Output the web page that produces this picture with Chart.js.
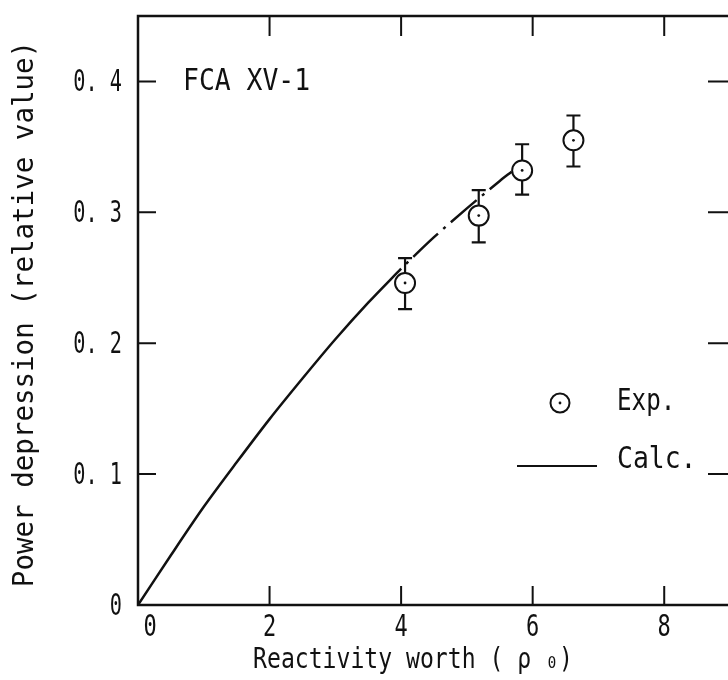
<!DOCTYPE html>
<html><head><meta charset="utf-8">
<script src="https://cdn.jsdelivr.net/npm/chart.js@4.4.1/dist/chart.umd.min.js"></script>
<style>
html,body{margin:0;padding:0;overflow:hidden;background:#fff;width:728px;height:680px}
#wrap{width:742px;height:680px;position:relative}
</style></head>
<body><div id="wrap"><canvas id="c"></canvas></div>
<script>
// ---- data ----
const xTicks = [0, 2, 4, 6, 8];
const xTickLabels = ['0', '2', '4', '6', '8'];
const yTicks = [0, 0.1, 0.2, 0.3, 0.4];
const yTickLabels = ['0', '0. 1', '0. 2', '0. 3', '0. 4'];
const calcX = [0, 0.5, 1, 1.5, 2, 2.5, 3, 3.5, 4];
const calcY = [0, 0.038, 0.075, 0.109, 0.142, 0.173, 0.203, 0.231, 0.257];
const extX = [4, 4.5, 5, 5.5, 5.68];
const extY = [0.257, 0.281, 0.303, 0.324, 0.331];
const expX = [4.06, 5.18, 5.84, 6.62];
const expY = [0.246, 0.2975, 0.332, 0.355];
const expLow = [0.226, 0.277, 0.3135, 0.335];
const expHigh = [0.265, 0.317, 0.352, 0.374];
const xTitle = 'Reactivity worth ( \u03C1 \u2080)';
const yTitle = 'Power depression (relative value)';
const panelLabel = 'FCA XV-1';
const legendExp = 'Exp.';
const legendCalc = 'Calc.';

const pts = (xs, ys) => xs.map((x, i) => ({x, y: ys[i]}));
const FONT = '"DejaVu Sans Mono", "Liberation Mono", monospace';
const INK = '#111';

function txt(ctx, s, x, y, o = {}) {
  const {align = 'center', sx = 1, sy = 1.3, rot = 0, size = 22} = o;
  ctx.save();
  ctx.translate(x, y);
  if (rot) ctx.rotate(rot);
  ctx.scale(sx, sy);
  ctx.font = size + 'px ' + FONT;
  ctx.textAlign = align;
  ctx.textBaseline = 'middle';
  ctx.fillStyle = INK;
  ctx.fillText(s, 0, 0);
  ctx.restore();
}

const decor = {
  id: 'decor',
  beforeDatasetsDraw(chart) {
    const ctx = chart.ctx, xs = chart.scales.x, ys = chart.scales.y;
    ctx.save();
    ctx.strokeStyle = INK;
    ctx.lineWidth = 2.2;
    expX.forEach((x, i) => {
      const px = xs.getPixelForValue(x);
      const lo = ys.getPixelForValue(expLow[i]);
      const hi = ys.getPixelForValue(expHigh[i]);
      ctx.beginPath();
      ctx.moveTo(px, lo); ctx.lineTo(px, hi);
      ctx.moveTo(px - 7, lo); ctx.lineTo(px + 7, lo);
      ctx.moveTo(px - 7, hi); ctx.lineTo(px + 7, hi);
      ctx.stroke();
    });
    ctx.restore();
  },
  afterDatasetsDraw(chart) {
    const ctx = chart.ctx, xs = chart.scales.x, ys = chart.scales.y;
    const a = chart.chartArea;
    ctx.save();
    ctx.fillStyle = INK;
    expX.forEach((x, i) => {
      ctx.beginPath();
      ctx.arc(xs.getPixelForValue(x), ys.getPixelForValue(expY[i]), 1.4, 0, Math.PI * 2);
      ctx.fill();
    });
    // frame
    ctx.strokeStyle = INK;
    ctx.lineWidth = 2.5;
    ctx.strokeRect(a.left, a.top, a.right - a.left, a.bottom - a.top);
    ctx.lineWidth = 2;
    ctx.beginPath();
    xTicks.forEach(v => {
      if (v === 0) return;
      const px = xs.getPixelForValue(v);
      ctx.moveTo(px, a.bottom); ctx.lineTo(px, a.bottom - 19);
      ctx.moveTo(px, a.top); ctx.lineTo(px, a.top + 20);
    });
    yTicks.forEach(v => {
      if (v === 0) return;
      const py = ys.getPixelForValue(v);
      ctx.moveTo(a.left, py); ctx.lineTo(a.left + 18, py);
      ctx.moveTo(a.right, py); ctx.lineTo(a.right - 22, py);
    });
    ctx.stroke();
    // tick labels
    xTicks.forEach((v, i) => {
      const px = xs.getPixelForValue(v) + (v === 0 ? 12 : 0);
      txt(ctx, xTickLabels[i], px, a.bottom + 23, {sx: 1, sy: 1.35});
    });
    yTicks.forEach((v, i) => {
      const py = ys.getPixelForValue(v);
      txt(ctx, yTickLabels[i], a.left - 16, py + 2, {align: 'right', sx: 0.92, sy: 1.4});
    });
    // axis titles
    txt(ctx, xTitle, 413, 661, {sx: 1.05, sy: 1.3});
    txt(ctx, yTitle, 26, 314, {rot: -Math.PI / 2, sx: 1.25, sy: 1.3});
    // panel label
    txt(ctx, panelLabel, 183, 82, {align: 'left', sx: 1.2, sy: 1.35});
    // legend
    ctx.beginPath();
    ctx.lineWidth = 2;
    ctx.arc(560, 403, 9.5, 0, Math.PI * 2);
    ctx.stroke();
    ctx.beginPath();
    ctx.arc(560, 403, 1.4, 0, Math.PI * 2);
    ctx.fill();
    txt(ctx, legendExp, 617, 402, {align: 'left', sx: 1.1, sy: 1.35});
    ctx.beginPath();
    ctx.lineWidth = 2.2;
    ctx.moveTo(517, 466); ctx.lineTo(597, 466);
    ctx.stroke();
    txt(ctx, legendCalc, 617, 460, {align: 'left', sx: 1.2, sy: 1.35});
    ctx.restore();
  }
};

new Chart(document.getElementById('c'), {
  type: 'scatter',
  data: {
    datasets: [
      {label: 'Calc.', data: pts(calcX, calcY), showLine: true, borderColor: INK, borderWidth: 2.5,
       pointRadius: 0, tension: 0.3, fill: false},
      {label: 'Calc. (extension)', data: pts(extX, extY), showLine: true, borderColor: INK, borderWidth: 2.5,
       borderDash: [34, 7, 3, 7], borderDashOffset: 34, pointRadius: 0, tension: 0.3, fill: false},
      {label: 'Exp.', data: pts(expX, expY), showLine: false, pointStyle: 'circle', pointRadius: 10,
       pointBorderWidth: 2, pointBackgroundColor: '#fff', pointBorderColor: INK}
    ]
  },
  options: {
    responsive: true,
    maintainAspectRatio: false,
    animation: false,
    events: [],
    layout: {padding: {top: 16, right: 2, left: 0, bottom: 0}},
    plugins: {legend: {display: false}, tooltip: {enabled: false}},
    scales: {
      x: {type: 'linear', min: 0, max: 9, ticks: {display: false}, grid: {display: false},
          border: {display: false}, afterFit: s => { s.height = 75; }},
      y: {type: 'linear', min: 0, max: 0.45, ticks: {display: false}, grid: {display: false},
          border: {display: false}, afterFit: s => { s.width = 138; }}
    }
  },
  plugins: [decor]
});
</script>
</body></html>
